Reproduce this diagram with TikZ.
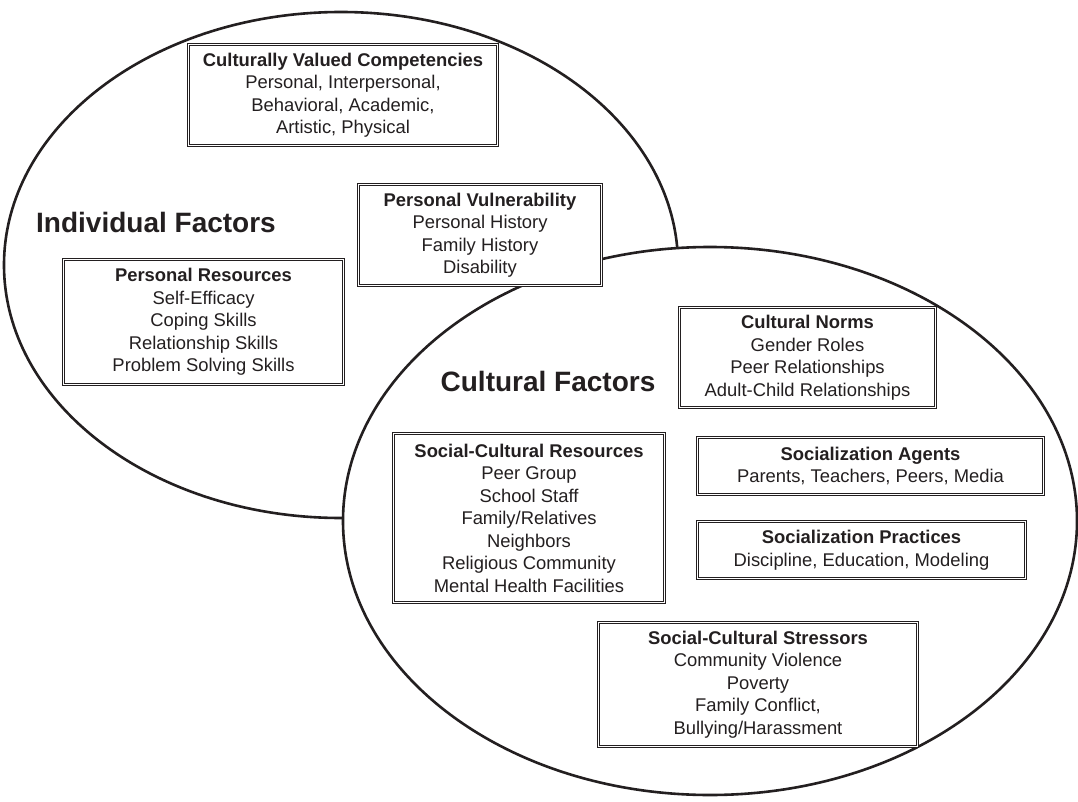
\documentclass[tikz,border=0pt]{standalone}
\usepackage{fontspec}
\setmainfont{Liberation Sans}
\definecolor{ink}{HTML}{231F20}
\begin{document}
\begin{tikzpicture}[x=1pt,y=-1pt,
  ring/.style={draw=ink, line width=2.6pt},
  factbox/.style={draw=ink, double, double distance=1.6pt, line width=0.8pt,
    fill=white, align=center, inner sep=0pt, text=ink,
    font=\fontsize{18.4}{22.5}\selectfont},
  biglabel/.style={text=ink, font=\fontsize{28}{32}\selectfont\bfseries}]
\useasboundingbox (0,0) rectangle (1078,802);
\fill[white] (0,0) rectangle (1078,802);

% the two overlapping domains
\draw[ring] (341,265) ellipse [x radius=337pt, y radius=253pt];
\draw[ring, fill=white] (710,521) ellipse [x radius=367pt, y radius=274pt];

\node[biglabel] (indiv) at (156,222) {Individual Factors};
\node[biglabel] (cult) at (548,381) {Cultural Factors};

% individual factors
\node[factbox, minimum width=309pt, minimum height=101pt] (cvc) at (343,95)
  {\textbf{Culturally Valued Competencies}\\Personal, Interpersonal,\\Behavioral, Academic,\\Artistic, Physical};
\node[factbox, minimum width=243pt, minimum height=101pt] (pv) at (480,235)
  {\textbf{Personal Vulnerability}\\Personal History\\Family History\\Disability};
\node[factbox, minimum width=280pt, minimum height=125pt] (pr) at (203.5,322)
  {\textbf{Personal Resources}\\Self-Efficacy\\Coping Skills\\Relationship Skills\\Problem Solving Skills};

% cultural factors
\node[factbox, minimum width=256pt, minimum height=100pt] (cn) at (807.5,357.5)
  {\textbf{Cultural Norms}\\Gender Roles\\Peer Relationships\\Adult-Child Relationships};
\node[factbox, minimum width=346pt, minimum height=57pt] (sa) at (870.5,466)
  {\textbf{Socialization Agents}\\Parents, Teachers, Peers, Media};
\node[factbox, minimum width=328pt, minimum height=57pt] (sp) at (861.5,550)
  {\textbf{Socialization Practices}\\Discipline, Education, Modeling};
\node[factbox, minimum width=271pt, minimum height=169pt] (scr) at (529,518)
  {\textbf{Social-Cultural Resources}\\Peer Group\\School Staff\\Family/Relatives\\Neighbors\\Religious Community\\Mental Health Facilities};
\node[factbox, minimum width=319pt, minimum height=124pt] (scs) at (758,684.5)
  {\textbf{Social-Cultural Stressors}\\Community Violence\\Poverty\\Family Conflict,\\Bullying/Harassment};
\end{tikzpicture}
\end{document}
